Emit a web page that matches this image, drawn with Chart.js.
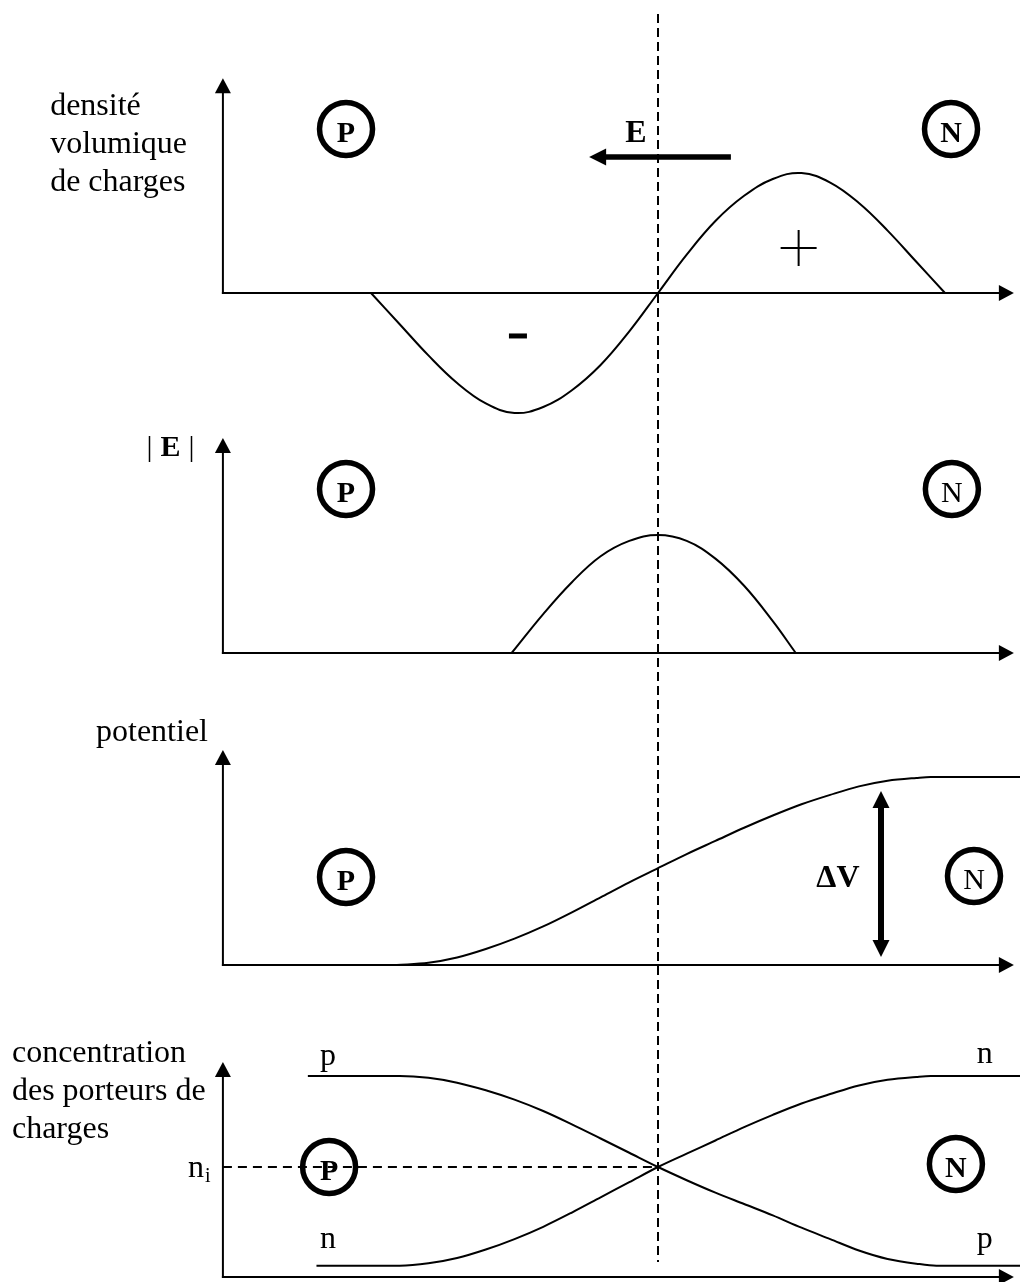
<!DOCTYPE html>
<html lang="fr">
<head>
<meta charset="utf-8">
<title>Jonction PN</title>
<script src="https://cdn.jsdelivr.net/npm/chart.js@4.4.1/dist/chart.umd.min.js"></script>
<style>
  html, body { margin: 0; padding: 0; background: #fff; overflow: hidden; }
  #wrap { position: relative; width: 1020px; height: 1282px; }
</style>
</head>
<body>
<div id="wrap"><canvas id="pn"></canvas></div>
<script>
// DATA. x = position across the junction (junction at 0)

// densité volumique de charges
const posRho = [-1, -0.9, -0.8, -0.7, -0.6, -0.5, -0.4, -0.3, -0.2, -0.1, 0, 0.1, 0.2, 0.3, 0.4, 0.5, 0.6, 0.7, 0.8, 0.9, 1];
const rho = [0, -0.26, -0.52, -0.75, -0.92, -1, -0.95, -0.81, -0.6, -0.32, 0, 0.32, 0.6, 0.81, 0.95, 1, 0.92, 0.75, 0.52, 0.26, 0];

// | E |
const posField = [-0.51, -0.4, -0.3, -0.2, -0.1, 0, 0.1, 0.2, 0.3, 0.4, 0.48];
const field = [0, 0.33, 0.6, 0.82, 0.95, 1, 0.95, 0.8, 0.57, 0.27, 0];

// potentiel (0 -> deltaV = 1)
const posPot = [-0.91, -0.8, -0.7, -0.6, -0.5, -0.4, -0.3, -0.2, -0.1, 0, 0.1, 0.2, 0.3, 0.4, 0.5, 0.6, 0.7, 0.8, 0.9, 0.95, 1.3];
const potential = [0, 0.012, 0.04, 0.085, 0.14, 0.205, 0.28, 0.36, 0.44, 0.515, 0.59, 0.66, 0.73, 0.795, 0.855, 0.905, 0.95, 0.98, 0.995, 1, 1];

// concentration des porteurs (log10 scale, ni = 10)
const posP = [-1.22, -0.9, -0.8, -0.7, -0.6, -0.5, -0.4, -0.3, -0.2, -0.1, 0, 0.1, 0.2, 0.3, 0.4, 0.5, 0.6, 0.7, 0.8, 0.9, 0.97, 1.3];
const pConc = [16, 16, 15.88, 15.56, 15.06, 14.44, 13.69, 12.81, 11.88, 10.94, 10, 9.13, 8.31, 7.56, 6.81, 6, 5.25, 4.5, 3.94, 3.63, 3.5, 3.5];
const posN = [-1.19, -0.9, -0.8, -0.7, -0.6, -0.5, -0.4, -0.3, -0.2, -0.1, 0, 0.1, 0.2, 0.3, 0.4, 0.5, 0.6, 0.7, 0.8, 0.9, 0.95, 1.3];
const nConc = [3.5, 3.5, 3.65, 4, 4.56, 5.25, 6.06, 7, 8, 9, 10, 10.88, 11.75, 12.63, 13.44, 14.19, 14.81, 15.38, 15.75, 15.94, 16, 16];
const NI = 10;

// LAYOUT
const W = 1020, H = 1282;
const JUNCTION_PX = 658, PX_PER_X = 287;
const AXIS_X = -1.516, AXIS_END = 1.24;
const INK = '#000';
const SERIF = '"Liberation Serif", "Times New Roman", serif';

function band(value, px, pxPerUnit) {
  return { min: value - (H - px) / pxPerUnit, max: value + px / pxPerUnit };
}

const panels = [
  { axis: 'y1', base: 0, top: 1.79 },
  { axis: 'y2', base: 0, top: 1.822 },
  { axis: 'y3', base: 0, top: 1.144 },
  { axis: 'y4', base: 2.75, top: 16.92 }
];

const regions = [
  { axis: 'y1', x: -1.087, y: 1.367, letter: 'P', bold: true },
  { axis: 'y1', x: 1.021, y: 1.367, letter: 'N', bold: true },
  { axis: 'y2', x: -1.087, y: 1.39, letter: 'P', bold: true },
  { axis: 'y2', x: 1.024, y: 1.39, letter: 'N', bold: false },
  { axis: 'y3', x: -1.087, y: 0.468, letter: 'P', bold: true },
  { axis: 'y3', x: 1.101, y: 0.473, letter: 'N', bold: false },
  { axis: 'y4', x: -1.146, y: 10, letter: 'P', bold: true },
  { axis: 'y4', x: 1.038, y: 10.2, letter: 'N', bold: true }
];

const texts = [
  { axis: 'y1', x: -2.118, y: 1.483, text: 'densité' },
  { axis: 'y1', x: -2.118, y: 1.167, text: 'volumique' },
  { axis: 'y1', x: -2.118, y: 0.85, text: 'de charges' },
  { axis: 'y1', x: -0.077, y: 1.258, text: 'E', bold: true, align: 'center' },
  { axis: 'y2', x: -1.782, y: 1.67, text: '|', size: 30 },
  { axis: 'y2', x: -1.699, y: 1.67, text: 'E', size: 30, bold: true, align: 'center' },
  { axis: 'y2', x: -1.615, y: 1.67, text: '|', size: 30, align: 'right' },
  { axis: 'y3', x: -1.568, y: 1.191, text: 'potentiel', align: 'right' },
  { axis: 'y3', x: 0.627, y: 0.415, text: 'ΔV', bold: true, align: 'center' },
  { axis: 'y4', x: -2.251, y: 16.92, text: 'concentration' },
  { axis: 'y4', x: -2.251, y: 14.42, text: 'des porteurs de' },
  { axis: 'y4', x: -2.251, y: 11.91, text: 'charges' },
  { axis: 'y4', x: -1.178, y: 16.73, text: 'p' },
  { axis: 'y4', x: 1.111, y: 16.86, text: 'n' },
  { axis: 'y4', x: -1.178, y: 4.66, text: 'n' },
  { axis: 'y4', x: 1.111, y: 4.66, text: 'p' }
];

function line(ctx, x1, y1, x2, y2) {
  ctx.beginPath(); ctx.moveTo(x1, y1); ctx.lineTo(x2, y2); ctx.stroke();
}

function head(ctx, x, y, ang, len, wid) {
  ctx.save();
  ctx.translate(x, y); ctx.rotate(ang);
  ctx.beginPath();
  ctx.moveTo(0, 0); ctx.lineTo(-len, -wid / 2); ctx.lineTo(-len, wid / 2);
  ctx.closePath(); ctx.fill();
  ctx.restore();
}

function arrow(ctx, x1, y1, x2, y2, w, len, wid, twoHeads) {
  const a = Math.atan2(y2 - y1, x2 - x1), c = Math.cos(a), s = Math.sin(a);
  ctx.lineWidth = w;
  const sx = twoHeads ? x1 + c * len * 0.8 : x1, sy = twoHeads ? y1 + s * len * 0.8 : y1;
  line(ctx, sx, sy, x2 - c * len * 0.8, y2 - s * len * 0.8);
  head(ctx, x2, y2, a, len, wid);
  if (twoHeads) head(ctx, x1, y1, a + Math.PI, len, wid);
}

const decor = {
  id: 'decor',
  beforeDraw(chart) {
    const { ctx, width, height } = chart;
    ctx.save(); ctx.fillStyle = '#fff'; ctx.fillRect(0, 0, width, height); ctx.restore();
  },
  afterDatasetsDraw(chart) {
    const { ctx, scales } = chart;
    const X = u => scales.x.getPixelForValue(u);
    const Y = (id, v) => scales[id].getPixelForValue(v);
    ctx.save();
    ctx.fillStyle = INK; ctx.strokeStyle = INK;

    // dashed junction line + ni level
    ctx.lineWidth = 2;
    ctx.setLineDash([9, 5]);
    line(ctx, X(0), Y('y1', 2.325), X(0), Y('y4', 3.74));
    ctx.setLineDash([9, 6]);
    line(ctx, X(AXIS_X), Y('y4', NI), X(0), Y('y4', NI));
    ctx.setLineDash([]);

    // axes
    ctx.lineCap = 'square';
    panels.forEach(p => {
      const ox = X(AXIS_X), oy = Y(p.axis, p.base);
      arrow(ctx, ox, oy, ox, Y(p.axis, p.top), 2, 15, 16);
      arrow(ctx, ox, oy, X(AXIS_END), oy, 2, 15, 16);
    });
    ctx.lineCap = 'butt';

    // E arrow, + / - signs, delta V arrow
    arrow(ctx, X(0.254), Y('y1', 1.133), X(-0.240), Y('y1', 1.133), 5.5, 17, 17);
    ctx.lineWidth = 2;
    const px = X(0.49), py = Y('y1', 0.375);
    line(ctx, px - 18, py, px + 18, py);
    line(ctx, px, py - 18, px, py + 18);
    const mx = X(-0.488), my = Y('y1', -0.358);
    ctx.fillRect(mx - 9, my - 2.5, 18, 5);
    arrow(ctx, X(0.777), Y('y3', 0.043), X(0.777), Y('y3', 0.926), 6, 17, 17, true);

    // P / N regions
    regions.forEach(r => {
      const cx = X(r.x), cy = Y(r.axis, r.y);
      ctx.lineWidth = 5.5;
      ctx.beginPath(); ctx.arc(cx, cy, 26.5, 0, Math.PI * 2); ctx.stroke();
      ctx.font = (r.bold ? 'bold ' : '') + '30px ' + SERIF;
      ctx.textAlign = 'center'; ctx.textBaseline = 'alphabetic';
      ctx.fillText(r.letter, cx, cy + 13);
    });

    // labels
    texts.forEach(t => {
      ctx.font = (t.bold ? 'bold ' : '') + (t.size || 32) + 'px ' + SERIF;
      ctx.textAlign = t.align || 'left'; ctx.textBaseline = 'alphabetic';
      ctx.fillText(t.text, X(t.x), Y(t.axis, t.y));
    });

    // n with subscript i
    ctx.textAlign = 'left';
    ctx.font = '32px ' + SERIF;
    const nx = X(-1.638), ny = Y('y4', 9.342);
    ctx.fillText('n', nx, ny);
    const nw = ctx.measureText('n').width;
    ctx.font = '20px ' + SERIF;
    ctx.fillText('i', nx + nw + 1, ny + 5);

    ctx.restore();
  }
};

function curve(xs, ys, axis, smooth) {
  const ds = {
    data: xs.map((x, i) => ({ x: x, y: ys[i] })),
    yAxisID: axis,
    showLine: true,
    borderColor: INK,
    borderWidth: 2,
    pointRadius: 0,
    fill: false
  };
  if (smooth) ds.tension = 0.4;
  else ds.cubicInterpolationMode = 'monotone';
  return ds;
}

new Chart(document.getElementById('pn'), {
  type: 'scatter',
  data: {
    datasets: [
      curve(posRho, rho, 'y1', true),
      curve(posField, field, 'y2', true),
      curve(posPot, potential, 'y3'),
      curve(posP, pConc, 'y4'),
      curve(posN, nConc, 'y4')
    ]
  },
  options: {
    responsive: true,
    maintainAspectRatio: false,
    animation: false,
    events: [],
    layout: { padding: 0 },
    plugins: { legend: { display: false }, tooltip: { enabled: false } },
    scales: {
      x: { type: 'linear', display: false, min: -JUNCTION_PX / PX_PER_X, max: (W - JUNCTION_PX) / PX_PER_X },
      y: { display: false },
      y1: { type: 'linear', display: false, ...band(0, 293, 120) },
      y2: { type: 'linear', display: false, ...band(0, 653, 118) },
      y3: { type: 'linear', display: false, ...band(0, 965, 188) },
      y4: { type: 'linear', display: false, ...band(16, 1076, 15.17) }
    }
  },
  plugins: [decor]
});
</script>
</body>
</html>
